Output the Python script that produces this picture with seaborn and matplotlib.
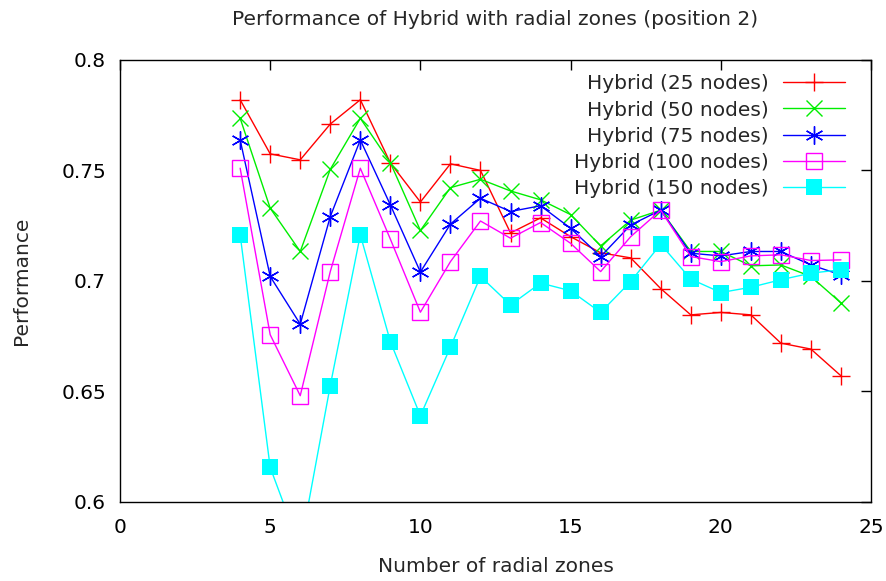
import matplotlib
matplotlib.use("Agg")
import matplotlib.pyplot as plt
import seaborn as sns
import pandas as pd

zones = list(range(4, 25))
perf_25 = [0.782, 0.7575, 0.7548, 0.771, 0.782, 0.7534, 0.7357, 0.753, 0.750, 0.7217, 0.7285,
           0.720, 0.7127, 0.7104, 0.6965, 0.6846, 0.6857, 0.6846, 0.6718, 0.6691, 0.657]
perf_50 = [0.7736, 0.7329, 0.7133, 0.7505, 0.7736, 0.7535, 0.7228, 0.7422, 0.746, 0.7407, 0.7367,
           0.730, 0.7158, 0.7275, 0.732, 0.7133, 0.7133, 0.7068, 0.7072, 0.702, 0.690]
perf_75 = [0.7638, 0.702, 0.6804, 0.7291, 0.7638, 0.7344, 0.704, 0.7257, 0.7374, 0.7314, 0.734,
           0.7238, 0.711, 0.7253, 0.732, 0.7125, 0.7113, 0.7133, 0.7133, 0.7072, 0.7027]
perf_100 = [0.751, 0.6756, 0.648, 0.7042, 0.751, 0.7189, 0.6858, 0.7087, 0.7271, 0.7193, 0.7264,
            0.717, 0.7042, 0.720, 0.732, 0.711, 0.7087, 0.7113, 0.7118, 0.7092, 0.7095]
perf_150 = [0.7208, 0.6155, 0.579, 0.6526, 0.7208, 0.6725, 0.6389, 0.670, 0.702, 0.6891, 0.699,
            0.6955, 0.6857, 0.6997, 0.7166, 0.7008, 0.6947, 0.6971, 0.7005, 0.7035, 0.705]

labels = ["Hybrid (25 nodes)", "Hybrid (50 nodes)", "Hybrid (75 nodes)",
          "Hybrid (100 nodes)", "Hybrid (150 nodes)"]
series = [perf_25, perf_50, perf_75, perf_100, perf_150]
colors = ["#ff0000", "#00ee00", "#0000ff", "#ff00ff", "#00ffff"]

sns.set_style("white")
plt.rcParams["font.family"] = ["DejaVu Sans"]
FS = 14.5

fig = plt.figure(figsize=(8.87, 5.81), dpi=100)
ax = fig.add_axes([120 / 887, 1 - 501.7 / 581, (871 - 120) / 887, (501.7 - 60) / 581])

styles = [
    dict(marker="+", markersize=13, markeredgewidth=1.0),
    dict(marker="x", markersize=11, markeredgewidth=1.0),
    dict(marker=(6, 2, 0), markersize=13, markeredgewidth=1.0),
    dict(marker="s", markersize=11.5, markerfacecolor="none", markeredgewidth=1.0),
    dict(marker="s", markersize=11.5, markeredgewidth=0),
]

for lab, vals, col, st in zip(labels, series, colors, styles):
    df = pd.DataFrame({"zones": zones, "perf": vals})
    st = dict(st)
    if st.get("markerfacecolor") != "none":
        st["markerfacecolor"] = col
    sns.lineplot(data=df, x="zones", y="perf", ax=ax, color=col, linewidth=1.0,
                 label=lab, markeredgecolor=col, **st)

ax.set_xlim(0, 25)
ax.set_ylim(0.6, 0.8)
ax.set_xticks([0, 5, 10, 15, 20, 25])
ax.set_xticklabels(["0", "5", "10", "15", "20", "25"])
ax.set_yticks([0.6, 0.65, 0.7, 0.75, 0.8])
ax.set_yticklabels(["0.6", "0.65", "0.7", "0.75", "0.8"])
ax.tick_params(axis="both", direction="in", length=7, width=1, labelsize=FS,
               top=True, right=True, colors="black", pad=10)
ax.tick_params(axis="x", pad=12)
for sp in ax.spines.values():
    sp.set_color("black")
    sp.set_linewidth(1.0)

ax.set_xlabel("Number of radial zones", fontsize=FS, labelpad=14)
ax.set_ylabel("Performance", fontsize=FS, labelpad=22)
ax.set_title("Performance of Hybrid with radial zones (position 2)", fontsize=FS, pad=25)

leg = ax.legend(loc="upper right", frameon=False, markerfirst=False, fontsize=FS,
                handlelength=3.1, handletextpad=0.7, labelspacing=0.36,
                bbox_to_anchor=(0.982, 0.995), borderaxespad=0.2)

fig.savefig("out.png", dpi=100)
